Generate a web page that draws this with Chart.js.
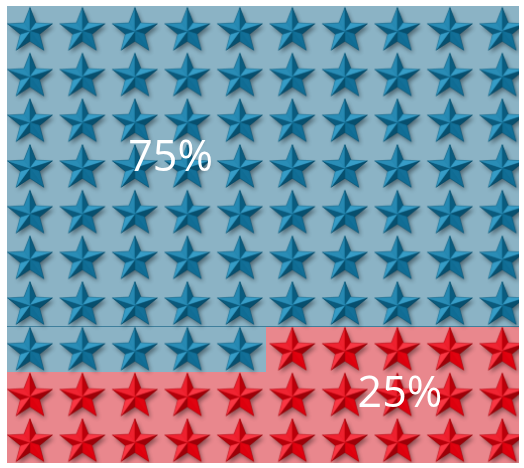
<!DOCTYPE html>
<html>
<head>
<meta charset="utf-8">
<script src="https://cdn.jsdelivr.net/npm/chart.js@4.4.1/dist/chart.umd.min.js"></script>
<style>
  html, body { margin: 0; padding: 0; background: #fff; }
  canvas { display: block; }
</style>
</head>
<body>
<canvas id="chart" width="524" height="468"></canvas>
<script>
// waffle data: 10 x 10 cells, share of each category
var categories = ['Blue', 'Red'];
var percentages = [75, 25];
var gridCols = 10;
var gridRows = 10;

var cellColors = ['#8bb3c5', '#e9878d'];
var starColors = [
  { light: '#40a8d2', mid: '#116e96', dark: '#054865' },
  { light: '#ff4552', mid: '#e0000e', dark: '#8e0007' }
];

// star picture used as point style
function makeStar(col) {
  var size = 60;
  var c = document.createElement('canvas');
  c.width = size; c.height = size;
  var g = c.getContext('2d');
  var R = 23.5, r = R * 0.43;
  var cx = size / 2, cy = size / 2 + 2.2;
  var pts = [];
  for (var k = 0; k < 10; k++) {
    var a = (-90 + 36 * k) * Math.PI / 180;
    var rad = k % 2 == 0 ? R : r;
    pts.push([cx + rad * Math.cos(a), cy + rad * Math.sin(a)]);
  }
  function path() {
    g.beginPath();
    g.moveTo(pts[0][0], pts[0][1]);
    for (var i = 1; i < pts.length; i++) g.lineTo(pts[i][0], pts[i][1]);
    g.closePath();
  }
  g.save();
  g.shadowColor = 'rgba(0,0,0,0.4)';
  g.shadowBlur = 4;
  g.shadowOffsetX = 2;
  g.shadowOffsetY = 3;
  path();
  g.fillStyle = col.mid;
  g.fill();
  g.restore();

  function hex(h) { return [parseInt(h.substr(1, 2), 16), parseInt(h.substr(3, 2), 16), parseInt(h.substr(5, 2), 16)]; }
  var L = hex(col.light), M = hex(col.mid), D = hex(col.dark);
  function shade(s) {
    var t = Math.abs(s), o = s > 0 ? L : D;
    return 'rgb(' + [0, 1, 2].map(function (i) { return Math.round(M[i] + (o[i] - M[i]) * t); }).join(',') + ')';
  }
  var lx = -0.55, ly = -0.83;
  for (var k = 0; k < 10; k += 2) {
    var T = pts[k];
    [pts[(k + 9) % 10], pts[(k + 1) % 10]].forEach(function (I) {
      var dx = T[0] - cx, dy = T[1] - cy;
      var nx = -dy, ny = dx;
      if (nx * (I[0] - cx) + ny * (I[1] - cy) < 0) { nx = -nx; ny = -ny; }
      var len = Math.sqrt(nx * nx + ny * ny);
      var s = (nx * lx + ny * ly) / len;
      g.beginPath();
      g.moveTo(cx, cy);
      g.lineTo(T[0], T[1]);
      g.lineTo(I[0], I[1]);
      g.closePath();
      g.fillStyle = shade(s * 0.85);
      g.fill();
      g.strokeStyle = shade(s * 0.85);
      g.lineWidth = 0.5;
      g.stroke();
    });
  }
  path();
  g.strokeStyle = 'rgba(0,0,0,0.2)';
  g.lineWidth = 0.7;
  g.stroke();
  return c;
}

// cell -> category, row-major from the top left
var cellCat = [];
for (var ci = 0; ci < categories.length; ci++) {
  for (var n = 0; n < percentages[ci]; n++) cellCat.push(ci);
}

var datasets = categories.map(function (name, ci) {
  var pts = [];
  cellCat.forEach(function (cat, idx) {
    if (cat == ci) pts.push({ x: idx % gridCols + 0.5, y: Math.floor(idx / gridCols) + 0.5 });
  });
  return {
    label: name,
    data: pts,
    pointStyle: makeStar(starColors[ci]),
    clip: 0
  };
});

var waffle = {
  id: 'waffle',
  beforeDatasetsDraw: function (chart) {
    var ctx = chart.ctx, xs = chart.scales.x, ys = chart.scales.y, area = chart.chartArea;
    ctx.save();
    ctx.beginPath();
    ctx.rect(area.left, area.top, area.right - area.left, area.bottom - area.top);
    ctx.clip();
    cellCat.forEach(function (cat, idx) {
      var c = idx % gridCols, r = Math.floor(idx / gridCols);
      var x0 = Math.round(xs.getPixelForValue(c)), x1 = Math.round(xs.getPixelForValue(c + 1));
      var y0 = Math.round(ys.getPixelForValue(r)), y1 = Math.round(ys.getPixelForValue(r + 1));
      if (r == gridRows - 1) y1 = area.bottom;
      if (c == gridCols - 1) x1 = area.right;
      ctx.fillStyle = cellColors[cat];
      ctx.fillRect(x0, y0, x1 - x0, y1 - y0);
    });
    // thin border along the last full blue row
    var yl = Math.round(ys.getPixelForValue(Math.floor(percentages[0] / gridCols))) + 0.5;
    ctx.strokeStyle = '#3f7f9c';
    ctx.lineWidth = 1;
    ctx.beginPath();
    ctx.moveTo(area.left, yl);
    ctx.lineTo(area.right, yl);
    ctx.stroke();
    ctx.restore();
  },
  afterDatasetsDraw: function (chart, args, opts) {
    var ctx = chart.ctx, xs = chart.scales.x, ys = chart.scales.y;
    ctx.save();
    ctx.fillStyle = '#ffffff';
    ctx.font = '43px "Open Sans"';
    ctx.textAlign = 'center';
    ctx.textBaseline = 'alphabetic';
    opts.at.forEach(function (p, i) {
      ctx.fillText(percentages[i] + '%', xs.getPixelForValue(p[0]), ys.getPixelForValue(p[1]));
    });
    ctx.restore();
  }
};

new Chart(document.getElementById('chart'), {
  type: 'scatter',
  data: { datasets: datasets },
  options: {
    responsive: false,
    animation: false,
    events: [],
    layout: { padding: { left: 7, right: 2, top: 6, bottom: 2 } },
    scales: {
      x: { type: 'linear', min: 0.064, max: 9.818, display: false },
      y: { type: 'linear', reverse: true, min: 0, max: gridRows, display: false }
    },
    plugins: {
      legend: { display: false },
      tooltip: { enabled: false },
      waffle: { at: [[3.18, 3.6], [7.55, 8.78]] }
    }
  },
  plugins: [waffle]
});
</script>
</body>
</html>
